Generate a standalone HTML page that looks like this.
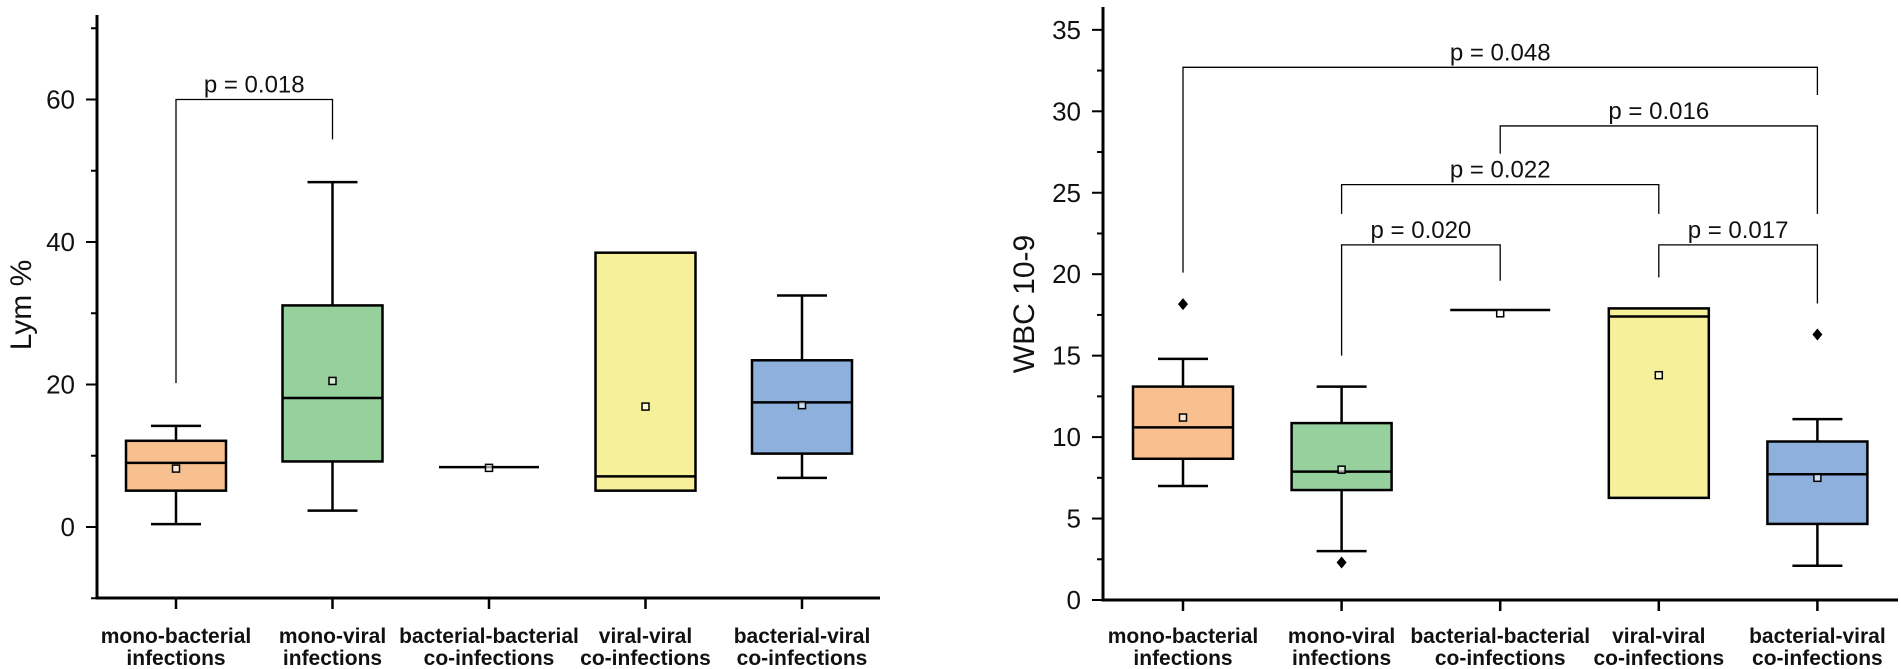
<!DOCTYPE html>
<html><head><meta charset="utf-8">
<style>
html,body{margin:0;padding:0;background:#fff;}
svg{display:block;font-family:"Liberation Sans",Arial,sans-serif;}
</style></head>
<body>
<svg id="chart" width="1901" height="669" viewBox="0 0 1901 669" xmlns="http://www.w3.org/2000/svg"></svg>
<script>
const categories = ["mono-bacterial|infections","mono-viral|infections","bacterial-bacterial|co-infections","viral-viral|co-infections","bacterial-viral|co-infections"];
const colors = ["#f9c08f","#96d09c","#f7f09a","#f7f09a","#8eb0dc"];
// Left panel: Lym %
const lymLow    = [0.4, 2.3, null, null, 6.9];
const lymQ1     = [5.1, 9.2, 8.4, 5.1, 10.3];
const lymMedian = [9.0, 18.1, 8.4, 7.1, 17.5];
const lymQ3     = [12.1, 31.1, 8.4, 38.5, 23.4];
const lymHigh   = [14.2, 48.4, null, null, 32.5];
const lymMean   = [8.2, 20.5, 8.3, 16.9, 17.1];
const lymOutliers = [];
const lymTicks  = [0, 20, 40, 60];
const lymMinor  = [-10, 10, 30, 50, 70];
const lymBrackets = [[0,1,60,20.2,54.4,"p = 0.018"]];
// Right panel: WBC
const wbcLow    = [7.0, 3.0, null, null, 2.1];
const wbcQ1     = [8.67, 6.75, 17.8, 6.27, 4.67];
const wbcMedian = [10.6, 7.88, 17.8, 17.4, 7.72];
const wbcQ3     = [13.1, 10.86, 17.8, 17.9, 9.73];
const wbcHigh   = [14.8, 13.1, null, null, 11.1];
const wbcMean   = [11.2, 8.0, 17.6, 13.8, 7.5];
const wbcOutliers = [[0,18.16],[1,2.3],[4,16.3]];
const wbcTicks  = [0, 5, 10, 15, 20, 25, 30, 35];
const wbcMinor  = [2.5, 7.5, 12.5, 17.5, 22.5, 27.5, 32.5];
const wbcBrackets = [
  [0,4,32.7,20.1,31.0,"p = 0.048"],
  [2,4,29.1,27.4,23.7,"p = 0.016"],
  [1,3,25.5,23.7,23.7,"p = 0.022"],
  [1,2,21.8,15.0,19.6,"p = 0.020"],
  [3,4,21.8,19.8,18.2,"p = 0.017"]
];

const NS="http://www.w3.org/2000/svg";
const svg=document.getElementById('chart');
function mk(tag,attrs,parent,name){
  const e=document.createElementNS(NS,tag);
  for(const k in attrs)e.setAttribute(k,attrs[k]);
  
  
  (parent||svg).appendChild(e);return e;
}

function panel(cfg){
  const g=mk('g',{},svg,cfg.name);
  const y=v=>cfg.yAt0 - v*cfg.pxPer;
  const x=i=>cfg.x0+i*cfg.step;
  mk('line',{x1:cfg.axX,y1:cfg.axTop,x2:cfg.axX,y2:cfg.axBottom+1.5,stroke:'#000','stroke-width':3},g,'y-axis-line');
  mk('line',{x1:cfg.axX-1.5,y1:cfg.axBottom,x2:cfg.axRight,y2:cfg.axBottom,stroke:'#000','stroke-width':3},g,'x-axis-line');
  cfg.ticks.forEach(t=>{
    mk('line',{x1:cfg.axX-11,y1:y(t),x2:cfg.axX,y2:y(t),stroke:'#000','stroke-width':2},g,'y-tick');
    const tx=mk('text',{x:cfg.axX-22,y:y(t)+9,'text-anchor':'end','font-size':26,fill:'#111'},g,'y-tick-label');
    tx.textContent=t;
  });
  cfg.minor.forEach(t=>{
    mk('line',{x1:cfg.axX-6,y1:y(t),x2:cfg.axX,y2:y(t),stroke:'#000','stroke-width':2},g,'y-minor-tick');
  });
  const yl=mk('text',{x:0,y:0,'text-anchor':'middle','font-size':30,fill:'#111',transform:`translate(${cfg.ylx},${cfg.yly}) rotate(-90)`},g,'y-axis-title');
  yl.textContent=cfg.ytitle;
  categories.forEach((c,i)=>{
    mk('line',{x1:x(i),y1:cfg.axBottom,x2:x(i),y2:cfg.axBottom+11,stroke:'#000','stroke-width':2.5},g,'x-tick');
    const parts=c.split('|');
    parts.forEach((p,j)=>{
      const t=mk('text',{x:x(i),y:643+j*22,'text-anchor':'middle','font-size':21,'font-weight':'bold',fill:'#111'},g,'x-tick-label');
      t.textContent=p;
    });
  });
  const hw=50, cw=25;
  categories.forEach((c,i)=>{
    const cx=x(i);
    const bg=mk('g',{},g,'box-'+i);
    if(cfg.high[i]!=null){
      mk('line',{x1:cx,y1:y(cfg.high[i]),x2:cx,y2:y(cfg.q3[i]),stroke:'#000','stroke-width':2.5},bg,'whisker-upper');
      mk('line',{x1:cx-cw,y1:y(cfg.high[i]),x2:cx+cw,y2:y(cfg.high[i]),stroke:'#000','stroke-width':2.5},bg,'whisker-cap-upper');
      mk('line',{x1:cx,y1:y(cfg.low[i]),x2:cx,y2:y(cfg.q1[i]),stroke:'#000','stroke-width':2.5},bg,'whisker-lower');
      mk('line',{x1:cx-cw,y1:y(cfg.low[i]),x2:cx+cw,y2:y(cfg.low[i]),stroke:'#000','stroke-width':2.5},bg,'whisker-cap-lower');
    }
    if(cfg.q3[i]-cfg.q1[i]>0.01){
      mk('rect',{x:cx-hw,y:y(cfg.q3[i]),width:hw*2,height:y(cfg.q1[i])-y(cfg.q3[i]),fill:colors[i],stroke:'#000','stroke-width':2.5},bg,'iqr-box');
    }
    mk('line',{x1:cx-hw,y1:y(cfg.med[i]),x2:cx+hw,y2:y(cfg.med[i]),stroke:'#000','stroke-width':2.5},bg,'median-line');
    mk('rect',{x:cx-3.5,y:y(cfg.mean[i])-3.5,width:7,height:7,fill:'#fff','fill-opacity':0.6,stroke:'#000','stroke-width':1.5},bg,'mean-marker');
  });
  cfg.out.forEach(o=>{
    const cx=x(o[0]),cy=y(o[1]);
    mk('polygon',{points:`${cx},${cy-6} ${cx+5},${cy} ${cx},${cy+6} ${cx-5},${cy}`,fill:'#000'},g,'outlier-point');
  });
  cfg.brackets.forEach(b=>{
    const x1=x(b[0]),x2=x(b[1]);
    mk('polyline',{points:`${x1},${y(b[3])} ${x1},${y(b[2])} ${x2},${y(b[2])} ${x2},${y(b[4])}`,fill:'none',stroke:'#000','stroke-width':1.3},g,'significance-bracket');
    const t=mk('text',{x:(x1+x2)/2,y:y(b[2])-7,'text-anchor':'middle','font-size':24,fill:'#111'},g,'p-value-label');
    t.textContent=b[5];
  });
}

panel({name:'lym-panel',axX:97,axTop:15,axBottom:598,axRight:880,yAt0:527,pxPer:7.125,
  x0:176,step:156.5,ticks:lymTicks,minor:lymMinor,ytitle:'Lym %',ylx:31,yly:305,
  low:lymLow,q1:lymQ1,med:lymMedian,q3:lymQ3,high:lymHigh,mean:lymMean,out:lymOutliers,brackets:lymBrackets});
panel({name:'wbc-panel',axX:1103,axTop:7,axBottom:600,axRight:1898,yAt0:600,pxPer:16.29,
  x0:1183,step:158.6,ticks:wbcTicks,minor:wbcMinor,ytitle:'WBC 10-9',ylx:1034,yly:304,
  low:wbcLow,q1:wbcQ1,med:wbcMedian,q3:wbcQ3,high:wbcHigh,mean:wbcMean,out:wbcOutliers,brackets:wbcBrackets});
</script>
</body></html>
